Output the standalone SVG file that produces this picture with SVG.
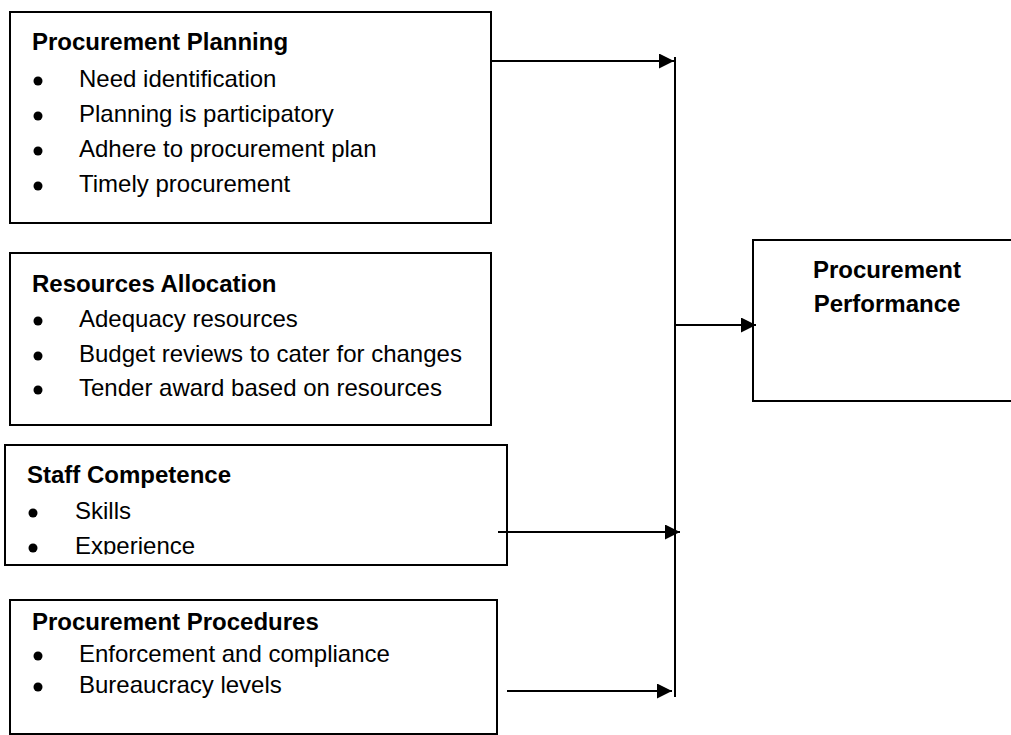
<svg xmlns="http://www.w3.org/2000/svg" width="1011" height="735" viewBox="0 0 1011 735">
<style>
.box{fill:#fff;stroke:#000;stroke-width:2}
.t{font-family:"Liberation Sans",Arial,sans-serif;font-size:24px;fill:#000}
.b{font-weight:bold}
.ln{stroke:#000;stroke-width:2;fill:none}
.dot{fill:#000}
</style>
<defs>
<marker id="ah" markerUnits="userSpaceOnUse" markerWidth="16" markerHeight="16" refX="15" refY="7.5" orient="auto">
<path d="M0,0 L15,7.5 L0,15 z" fill="#000"/>
</marker>
<clipPath id="clipExp"><rect x="0" y="530" width="500" height="24.5"/></clipPath>
</defs>
<g id="planning">
<rect class="box" x="10" y="12" width="481" height="211"/>
<text class="t b" x="32" y="50">Procurement Planning</text>
<circle class="dot" cx="38" cy="81" r="4.5"/><text class="t" x="79" y="87">Need identification</text>
<circle class="dot" cx="38" cy="116" r="4.5"/><text class="t" x="79" y="122">Planning is participatory</text>
<circle class="dot" cx="38" cy="151" r="4.5"/><text class="t" x="79" y="157">Adhere to procurement plan</text>
<circle class="dot" cx="38" cy="186" r="4.5"/><text class="t" x="79" y="192">Timely procurement</text>
</g>
<g id="resources">
<rect class="box" x="10" y="253" width="481" height="172"/>
<text class="t b" x="32" y="292">Resources Allocation</text>
<circle class="dot" cx="38" cy="321" r="4.5"/><text class="t" x="79" y="327">Adequacy resources</text>
<circle class="dot" cx="38" cy="356" r="4.5"/><text class="t" x="79" y="362">Budget reviews to cater for changes</text>
<circle class="dot" cx="38" cy="390" r="4.5"/><text class="t" x="79" y="396">Tender award based on resources</text>
</g>
<g id="staff">
<rect class="box" x="5" y="445" width="502" height="120"/>
<text class="t b" x="27" y="483">Staff Competence</text>
<circle class="dot" cx="33" cy="513" r="4.5"/><text class="t" x="75" y="519">Skills</text>
<circle class="dot" cx="33" cy="548" r="4.5"/><text class="t" x="75" y="554" clip-path="url(#clipExp)">Experience</text>
</g>
<g id="procedures">
<rect class="box" x="10" y="600" width="487" height="134"/>
<text class="t b" x="32" y="630">Procurement Procedures</text>
<circle class="dot" cx="38" cy="656" r="4.5"/><text class="t" x="79" y="662">Enforcement and compliance</text>
<circle class="dot" cx="38" cy="687" r="4.5"/><text class="t" x="79" y="693">Bureaucracy levels</text>
</g>
<g id="performance">
<rect class="box" x="753" y="240" width="270" height="161"/>
<text class="t b" x="887" y="278" text-anchor="middle">Procurement</text>
<text class="t b" x="887" y="312" text-anchor="middle">Performance</text>
</g>
<g id="connectors">
<line class="ln" x1="675" y1="57" x2="675" y2="697"/>
<line class="ln" x1="491" y1="61" x2="674" y2="61" marker-end="url(#ah)"/>
<line class="ln" x1="675" y1="325" x2="756" y2="325" marker-end="url(#ah)"/>
<line class="ln" x1="498" y1="532" x2="680" y2="532" marker-end="url(#ah)"/>
<line class="ln" x1="507" y1="691" x2="672" y2="691" marker-end="url(#ah)"/>
</g>
</svg>
